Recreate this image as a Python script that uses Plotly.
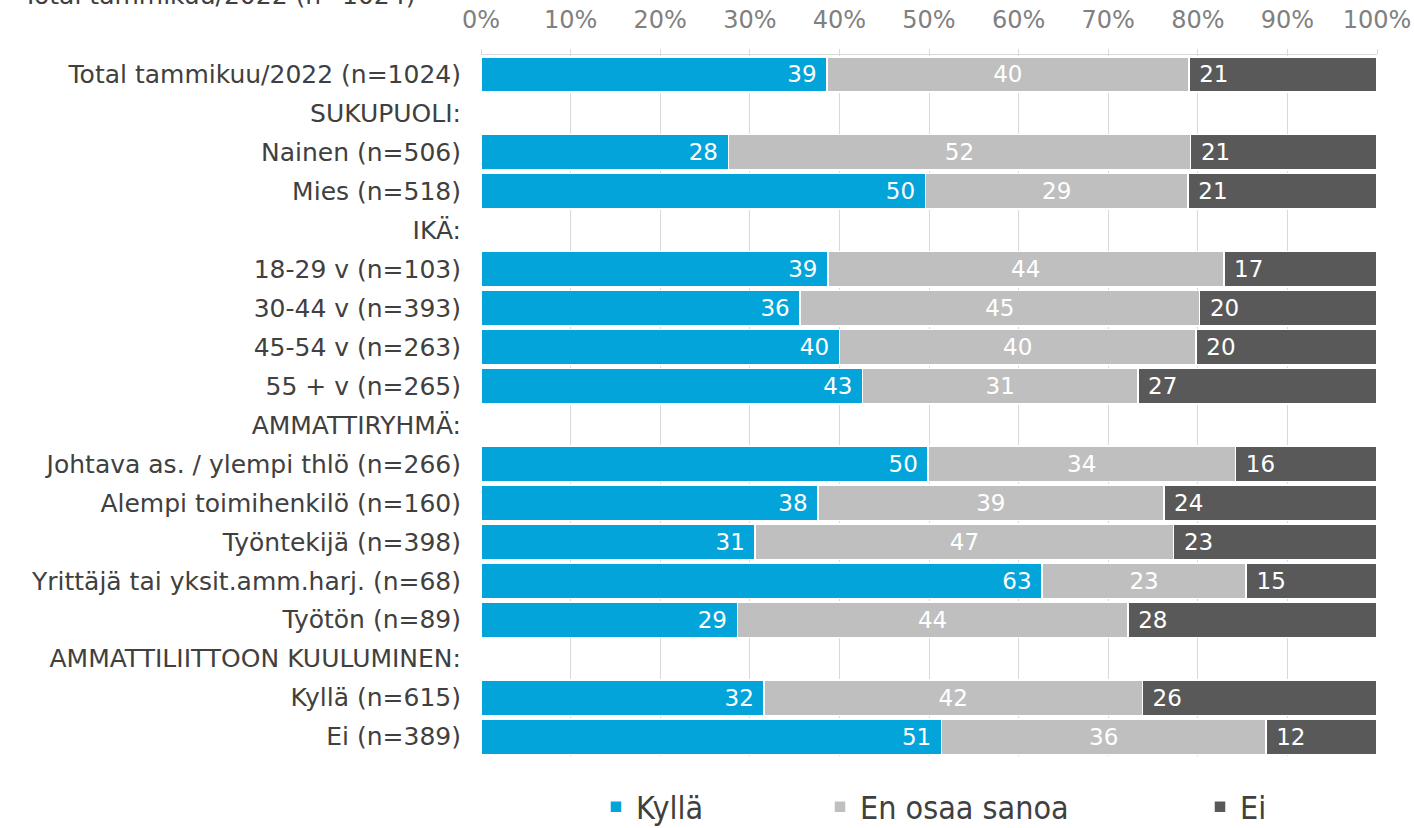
import plotly.graph_objects as go

categories = [
    "Total tammikuu/2022 (n=1024)",
    "SUKUPUOLI:",
    "Nainen (n=506)",
    "Mies (n=518)",
    "IKÄ:",
    "18-29 v (n=103)",
    "30-44 v (n=393)",
    "45-54 v (n=263)",
    "55 + v (n=265)",
    "AMMATTIRYHMÄ:",
    "Johtava as. / ylempi thlö (n=266)",
    "Alempi toimihenkilö (n=160)",
    "Työntekijä (n=398)",
    "Yrittäjä tai yksit.amm.harj. (n=68)",
    "Työtön (n=89)",
    "AMMATTILIITTOON KUULUMINEN:",
    "Kyllä (n=615)",
    "Ei (n=389)",
]

kylla = [38.6, None, 27.6, 49.6, None, 38.7, 35.6, 40.0, 42.6, None,
         49.9, 37.6, 30.6, 62.6, 28.6, None, 31.6, 51.4]
en_osaa = [40.4, None, 51.6, 29.3, None, 44.2, 44.6, 39.8, 30.7, None,
           34.3, 38.6, 46.7, 22.8, 43.6, None, 42.2, 36.2]
ei = [21.0, None, 20.8, 21.1, None, 17.1, 19.8, 20.2, 26.7, None,
      15.8, 23.8, 22.7, 14.6, 27.8, None, 26.2, 12.4]

series_names = ["Kyllä", "En osaa sanoa", "Ei"]
colors = ["#02A4D9", "#BFBFBF", "#595959"]
tick_vals = [0, 10, 20, 30, 40, 50, 60, 70, 80, 90, 100]
tick_text = [f"{v}%" for v in tick_vals]
title_text = "Total tammikuu/2022 (n=1024)"

FONT = "DejaVu Sans"
W, H = 1414, 828
ML, MR, MT, MB = 481, 37, 55, 72
PW, PH = W - ML - MR, H - MT - MB

fig = go.Figure()
series = [kylla, en_osaa, ei]
anchors = ["end", "middle", "start"]
templates = ["%{x:.0f}\u00a0", "%{x:.0f}", "\u00a0%{x:.0f}"]
legend_ids = ["legend", "legend2", "legend3"]
for vals, name, col, anc, tpl, lg in zip(series, series_names, colors, anchors, templates, legend_ids):
    fig.add_trace(go.Bar(
        y=categories, x=vals, name=name, orientation="h",
        marker=dict(color=col, line=dict(color="white", width=1.5)),
        texttemplate=tpl, textposition="inside", insidetextanchor=anc,
        textangle=0,
        textfont=dict(family=FONT, size=23, color="white"),
        legend=lg, hoverinfo="skip", showlegend=True,
    ))

legend_common = dict(
    orientation="h", xref="container", yref="container",
    xanchor="left", yanchor="middle", y=1 - 807 / H,
    font=dict(family="DejaVu Sans Condensed", size=32, color="#404040"),
    bgcolor="rgba(0,0,0,0)", itemwidth=30,
)

fig.add_annotation(
    text=title_text, xref="paper", yref="paper",
    x=(20 - ML) / PW, y=1 + (MT + 5) / PH, xanchor="left", yanchor="middle",
    showarrow=False, font=dict(family=FONT, size=25, color="#404040"),
)

fig.update_layout(
    width=W, height=H,
    barmode="stack", bargap=0.09,
    showlegend=True,
    plot_bgcolor="white", paper_bgcolor="white",
    margin=dict(l=ML, r=MR, t=MT, b=MB, pad=0, autoexpand=False),
    font=dict(family=FONT, size=25, color="#404040"),
    xaxis=dict(side="top", range=[0, 100], tickvals=tick_vals, ticktext=tick_text,
               showgrid=True, gridcolor="#D9D9D9", gridwidth=1,
               showline=True, linecolor="#D9D9D9", linewidth=1,
               ticks="outside", ticklen=5, tickcolor="#D9D9D9",
               ticklabelstandoff=11, automargin=False,
               tickfont=dict(family=FONT, size=24, color="#808080"),
               zeroline=False, fixedrange=True),
    yaxis=dict(autorange="reversed", categoryorder="array", categoryarray=categories,
               showgrid=False, showline=False, ticks="", ticklabelstandoff=19,
               automargin=False, fixedrange=True,
               tickfont=dict(family=FONT, size=25, color="#404040")),
    legend=dict(x=596 / W, **legend_common),
    legend2=dict(x=820 / W, **legend_common),
    legend3=dict(x=1200 / W, **legend_common),
)

fig.write_html("out.html", config={"displayModeBar": False},
               post_script="document.body.style.margin='0';")
